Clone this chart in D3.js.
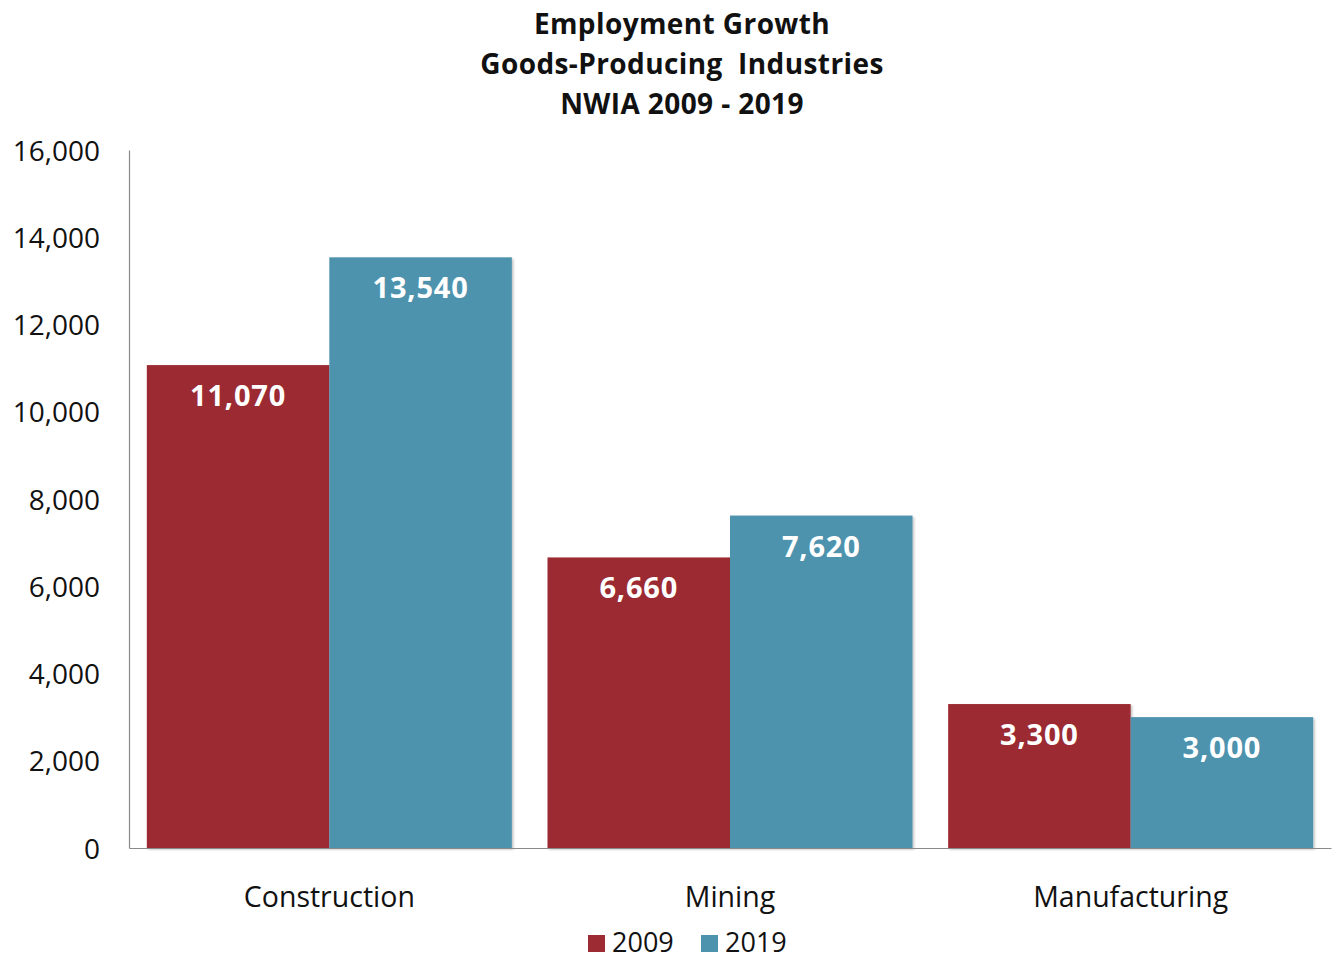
<!DOCTYPE html>
<html>
<head>
<meta charset="utf-8">
<script src="https://cdn.jsdelivr.net/npm/d3@7"></script>
<style>
  html, body { margin: 0; padding: 0; background: #fff; }
  svg text { font-family: "Open Sans", "Noto Sans", sans-serif; }
</style>
</head>
<body>
<svg id="chart" width="1335" height="959"></svg>
<script>
// Employment by goods-producing industry, NWIA
const categories = ["Construction", "Mining", "Manufacturing"];
const seriesNames = ["2009", "2019"];
const values2009 = [11070, 6660, 3300];
const values2019 = [13540, 7620, 3000];
const yTicks = [0, 2000, 4000, 6000, 8000, 10000, 12000, 14000, 16000];
const titleLines = ["Employment Growth", "Goods-Producing  Industries", "NWIA 2009 - 2019"];
const colors = ["#9c2b33", "#4d93ae"];

const svg = d3.select("#chart");
const margin = { left: 129, right: 1331, top: 150, bottom: 848 };

const x = d3.scaleBand()
  .domain(categories)
  .range([margin.left, margin.right])
  .paddingInner(0.089)
  .paddingOuter(0.0445);

const xSub = d3.scaleBand()
  .domain(seriesNames)
  .range([0, x.bandwidth()]);

const y = d3.scaleLinear()
  .domain([0, 16000])
  .range([margin.bottom, margin.top]);

const fmt = d3.format(",");

// soft shadow under bars
const defs = svg.append("defs");
const f = defs.append("filter").attr("id", "shadow").attr("x", "-5%").attr("y", "-5%").attr("width", "110%").attr("height", "110%");
f.append("feDropShadow").attr("dx", 1.5).attr("dy", 1.5).attr("stdDeviation", 1.2).attr("flood-color", "#000").attr("flood-opacity", 0.25);

// title
svg.append("g").selectAll("text")
  .data(titleLines)
  .join("text")
  .attr("x", 682)
  .attr("y", (d, i) => 34 + i * 40)
  .attr("text-anchor", "middle")
  .attr("font-size", 28)
  .attr("font-weight", "bold")
  .attr("letter-spacing", 0.4)
  .style("white-space", "pre")
  .attr("fill", "#111")
  .text(d => d);

// y axis
const yAxis = d3.axisLeft(y).tickValues(yTicks).tickFormat(fmt).tickSize(0).tickPadding(29);
const gy = svg.append("g").attr("transform", `translate(${margin.left},0)`).call(yAxis);
gy.select(".domain").attr("stroke", "#8a8a8a").attr("stroke-width", 1.2);
gy.selectAll("text").attr("font-size", 28).attr("fill", "#111")
  .attr("font-family", "\"Open Sans\", sans-serif").attr("dy", "0.36em");

// series data
const rows = categories.map((c, i) => ({ category: c, values: [values2009[i], values2019[i]] }));

const groups = svg.append("g").selectAll("g")
  .data(rows)
  .join("g")
  .attr("transform", d => `translate(${x(d.category)},0)`);

groups.selectAll("rect")
  .data(d => d.values.map((v, j) => ({ key: seriesNames[j], value: v, j })))
  .join("rect")
  .attr("x", d => xSub(d.key))
  .attr("y", d => y(d.value))
  .attr("width", xSub.bandwidth())
  .attr("height", d => y(0) - y(d.value))
  .attr("fill", d => colors[d.j])
  .attr("filter", "url(#shadow)");

groups.selectAll("text.val")
  .data(d => d.values.map((v, j) => ({ key: seriesNames[j], value: v, j })))
  .join("text")
  .attr("class", "val")
  .attr("x", d => xSub(d.key) + xSub.bandwidth() / 2)
  .attr("y", d => y(d.value) + 41)
  .attr("text-anchor", "middle")
  .attr("font-size", 29)
  .attr("font-weight", "bold")
  .attr("letter-spacing", 0.8)
  .attr("fill", "#fff")
  .text(d => fmt(d.value));

// x axis
const xAxis = d3.axisBottom(x).tickSize(0).tickPadding(39);
const gx = svg.append("g").attr("transform", `translate(0,${margin.bottom})`).call(xAxis);
gx.select(".domain").attr("stroke", "#8a8a8a").attr("stroke-width", 1.2);
gx.selectAll("text").attr("font-size", 28.5).attr("fill", "#111")
  .attr("font-family", "\"Open Sans\", sans-serif");

// legend
const legend = svg.append("g");
const legendX = [588, 701];
seriesNames.forEach((name, j) => {
  legend.append("rect")
    .attr("x", legendX[j]).attr("y", 935)
    .attr("width", 17).attr("height", 17)
    .attr("fill", colors[j]);
  legend.append("text")
    .attr("x", legendX[j] + 24).attr("y", 952)
    .attr("font-size", 27).attr("fill", "#111")
    .text(name);
});
</script>
</body>
</html>
